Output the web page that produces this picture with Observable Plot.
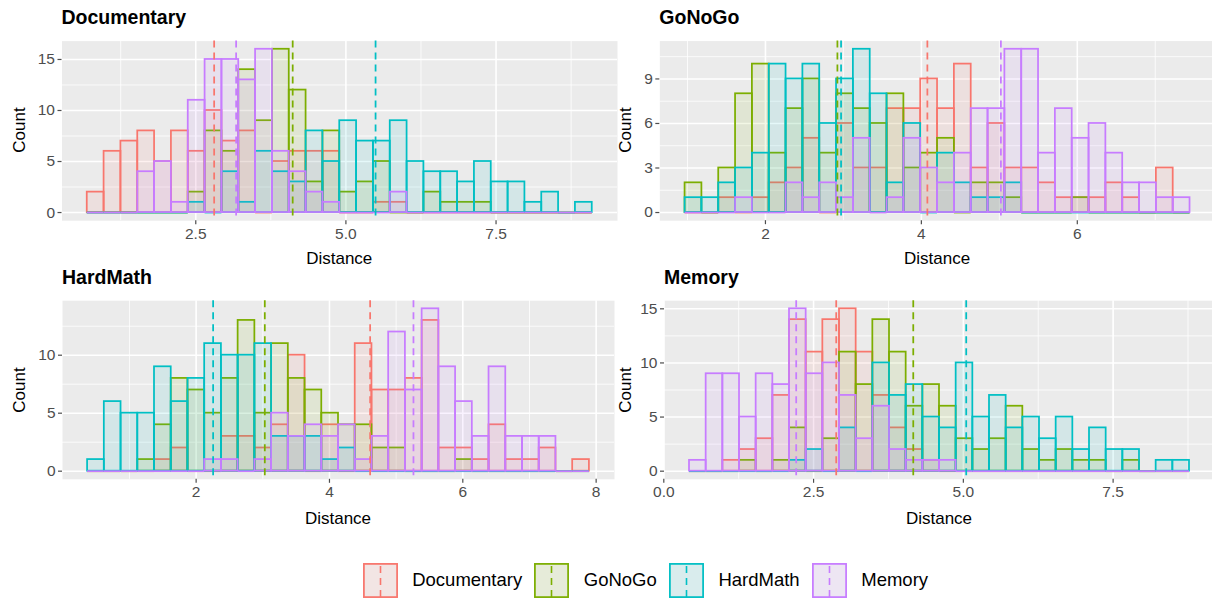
<!DOCTYPE html>
<html><head><meta charset="utf-8">
<script src="https://cdn.jsdelivr.net/npm/d3@7"></script>
<script src="https://cdn.jsdelivr.net/npm/@observablehq/plot@0.6"></script>
<style>
html,body{margin:0;padding:0;background:#fff;}
body{width:1212px;height:601px;overflow:hidden;position:relative;font-family:"Liberation Sans",Arial,Helvetica,sans-serif;}
.abs{position:absolute;}
.ptitle{position:absolute;font-weight:bold;font-size:19.5px;color:#000;white-space:nowrap;line-height:1;transform:translateY(-50%);}
.xlab{position:absolute;font-size:17px;color:#000;white-space:nowrap;line-height:1;transform:translate(-50%,-50%);}
.ylab{position:absolute;font-size:17px;color:#000;white-space:nowrap;line-height:1;transform:translate(-50%,-50%) rotate(-90deg);}
#legend{position:absolute;top:563px;left:362.6px;display:flex;align-items:center;font-size:18.5px;color:#000;height:35px;}
#legend .item{display:flex;align-items:center;margin-right:12px;}
#legend .item span{margin-left:14.6px;line-height:1;}
</style></head><body>
<script>
// ---- groups (colour / legend) ----
const groups = ["Documentary", "GoNoGo", "HardMath", "Memory"];
const groupColors = ["#F8766D", "#7CAE00", "#00BFC4", "#C77CFF"];
const panelNames = ["Documentary", "GoNoGo", "HardMath", "Memory"];
const xAxisTitle = "Distance";
const yAxisTitle = "Count";

// ---- bins (left edge of first bin, bin width) per panel ----
const binStart = [0.693, 0.969, 0.372, 0.429];
const binWidth = [0.2803, 0.2159, 0.2509, 0.2782];

// ---- counts per panel, per group (30 bins) ----
// Panel "Documentary"
const p1Documentary = [2,6,7,8,5,8,6,10,7,8,0,5,6,6,6,0,0,1,1,0,0,0,0,0,0,0,0,0,0,0];
const p1GoNoGo      = [0,0,0,0,0,0,2,8,6,14,9,16,12,3,8,2,3,5,0,0,2,1,1,1,0,0,0,0,0,0];
const p1HardMath    = [0,0,0,0,0,0,1,0,4,1,6,4,3,8,5,9,7,7,9,5,4,4,3,5,3,3,1,2,0,1];
const p1Memory      = [0,0,0,4,5,1,11,15,15,13,16,6,4,2,1,0,0,0,2,0,0,0,0,0,0,0,0,0,0,0];
// Panel "GoNoGo"
const p2Documentary = [0,0,1,0,1,2,3,5,0,6,3,3,7,7,9,7,10,3,6,3,3,2,1,1,1,2,1,0,3,0];
const p2GoNoGo      = [2,0,3,8,10,4,7,9,4,8,7,6,8,3,4,5,0,2,2,1,0,0,0,1,0,0,0,0,0,0];
const p2HardMath    = [1,1,2,3,4,10,9,10,6,9,11,8,2,6,0,4,2,1,1,2,0,0,0,0,0,0,0,0,0,0];
const p2Memory      = [0,0,0,1,0,0,2,1,2,1,5,0,1,5,3,2,4,7,7,11,11,4,7,5,6,4,2,2,1,1];
// Panel "HardMath"
const p3Documentary = [0,0,0,0,1,2,0,0,3,3,2,4,10,0,4,0,11,7,7,8,13,2,2,1,4,1,1,2,0,1];
const p3GoNoGo      = [0,0,0,1,4,8,7,5,8,13,5,11,8,7,5,4,4,2,2,0,0,0,1,0,0,0,0,0,0,0];
const p3HardMath    = [1,6,5,5,9,6,8,11,10,10,11,3,3,3,1,2,0,0,0,0,0,0,0,0,0,0,0,0,0,0];
const p3Memory      = [0,0,0,0,0,0,0,1,1,0,1,5,3,4,3,4,1,3,12,7,14,9,6,3,9,3,3,3,0,0];
// Panel "Memory"
const p4Documentary = [0,0,1,2,3,7,14,11,14,15,11,7,4,2,1,0,0,0,0,0,0,0,0,0,0,0,0,0,0,0];
const p4GoNoGo      = [0,0,0,1,0,1,4,0,3,11,8,14,11,6,8,6,3,2,3,6,2,1,2,1,1,0,1,0,0,0];
const p4HardMath    = [0,0,0,0,0,0,1,2,0,4,0,10,7,8,5,4,10,5,7,4,5,3,5,2,4,2,2,0,1,1];
const p4Memory      = [1,9,9,5,9,8,15,9,10,7,3,6,2,1,1,1,0,0,0,0,0,0,0,0,0,0,0,0,0,0];

// ---- group means (dashed lines) per panel, in group order ----
const p1Means = [2.806, 4.114, 5.494, 3.172];
const p2Means = [4.077, 2.923, 2.970, 5.020];
const p3Means = [4.610, 3.030, 2.255, 5.260];
const p4Means = [2.878, 4.164, 5.048, 2.210];

// ---- axis ticks per panel ----
const p1XTicks = [2.5, 5, 7.5],    p1XMinor = [1.25, 3.75, 6.25, 8.75];
const p2XTicks = [2, 4, 6],        p2XMinor = [1, 3, 5, 7];
const p3XTicks = [2, 4, 6, 8],     p3XMinor = [1, 3, 5, 7];
const p4XTicks = [0, 2.5, 5, 7.5], p4XMinor = [1.25, 3.75, 6.25, 8.75];
const p1YTicks = [0, 5, 10, 15],   p1YMinor = [2.5, 7.5, 12.5];
const p2YTicks = [0, 3, 6, 9],     p2YMinor = [1.5, 4.5, 7.5, 10.5];
const p3YTicks = [0, 5, 10],       p3YMinor = [2.5, 7.5, 12.5];
const p4YTicks = [0, 5, 10, 15],   p4YMinor = [2.5, 7.5, 12.5];

const fmt1 = d3.format(".1f"), fmt0 = d3.format("d");

const panels = [
  {name: panelNames[0], counts: [p1Documentary, p1GoNoGo, p1HardMath, p1Memory], means: p1Means,
   start: binStart[0], w: binWidth[0], xTicks: p1XTicks, xMinor: p1XMinor, yTicks: p1YTicks, yMinor: p1YMinor, fmt: fmt1,
   L: {chartLeft: 0, chartTop: 30, panelLeft: 61.5, panelWidth: 555.5, panelTop: 40.6, panelBottom: 220.2, titleCY: 18, countX: 18.5, distCY: 258}},
  {name: panelNames[1], counts: [p2Documentary, p2GoNoGo, p2HardMath, p2Memory], means: p2Means,
   start: binStart[1], w: binWidth[1], xTicks: p2XTicks, xMinor: p2XMinor, yTicks: p2YTicks, yMinor: p2YMinor, fmt: fmt0,
   L: {chartLeft: 606, chartTop: 30, panelLeft: 659.3, panelWidth: 555.5, panelTop: 40.6, panelBottom: 220.2, titleCY: 18, countX: 624.5, distCY: 258}},
  {name: panelNames[2], counts: [p3Documentary, p3GoNoGo, p3HardMath, p3Memory], means: p3Means,
   start: binStart[2], w: binWidth[2], xTicks: p3XTicks, xMinor: p3XMinor, yTicks: p3YTicks, yMinor: p3YMinor, fmt: fmt0,
   L: {chartLeft: 0, chartTop: 290, panelLeft: 62, panelWidth: 552, panelTop: 300.2, panelBottom: 478.8, titleCY: 277.5, countX: 18.5, distCY: 518}},
  {name: panelNames[3], counts: [p4Documentary, p4GoNoGo, p4HardMath, p4Memory], means: p4Means,
   start: binStart[3], w: binWidth[3], xTicks: p4XTicks, xMinor: p4XMinor, yTicks: p4YTicks, yMinor: p4YMinor, fmt: fmt1,
   L: {chartLeft: 606, chartTop: 290, panelLeft: 664, panelWidth: 550, panelTop: 300.2, panelBottom: 478.8, titleCY: 277.5, countX: 624.5, distCY: 518}}
];

function addDiv(cls, text, styles) {
  const d = document.createElement("div");
  d.className = cls; d.textContent = text;
  Object.assign(d.style, styles);
  document.body.appendChild(d);
  return d;
}

const barStroke = 1.75, dashStroke = 1.75;

for (const p of panels) {
  const n = p.counts[0].length;
  const end = p.start + n * p.w;
  const span = end - p.start;
  const xDomain = [p.start - 0.05 * span, end + 0.05 * span];
  const ymax = d3.max(p.counts.flat());
  const yDomain = [-0.05 * ymax, 1.05 * ymax];
  const L = p.L;
  const H = 240;
  const marginLeft = L.panelLeft - L.chartLeft;
  const marginTop = L.panelTop - L.chartTop;
  const marginBottom = H - (L.panelBottom - L.chartTop);

  const marks = [
    Plot.frame({fill: "#EBEBEB", stroke: "none"}),
    Plot.ruleX(p.xMinor, {stroke: "#fff", strokeWidth: 0.8}),
    Plot.ruleY(p.yMinor, {stroke: "#fff", strokeWidth: 0.8}),
    Plot.ruleX(p.xTicks, {stroke: "#fff", strokeWidth: 1.6}),
    Plot.ruleY(p.yTicks, {stroke: "#fff", strokeWidth: 1.6})
  ];
  groups.forEach((g, i) => {
    const rows = p.counts[i].map((c, k) => ({x1: p.start + k * p.w, x2: p.start + (k + 1) * p.w, count: c}));
    marks.push(Plot.rect(rows.filter(d => d.count > 0), {
      x1: "x1", x2: "x2", y1: () => 0, y2: "count",
      fill: groupColors[i], fillOpacity: 0.1, stroke: groupColors[i], strokeWidth: barStroke
    }));
    marks.push(Plot.ruleY(rows.filter(d => d.count === 0), {
      x1: "x1", x2: "x2", y: () => 0, stroke: groupColors[i], strokeWidth: barStroke
    }));
  });
  groups.forEach((g, i) => {
    marks.push(Plot.ruleX([p.means[i]], {stroke: groupColors[i], strokeWidth: dashStroke, strokeDasharray: "7,5"}));
  });
  marks.push(Plot.axisX({ticks: p.xTicks, tickFormat: p.fmt, tickSize: 4, tickPadding: 3, fontSize: 15.5, color: "#4D4D4D", strokeWidth: 1.2, label: null}));
  marks.push(Plot.axisY({ticks: p.yTicks, tickFormat: fmt0, tickSize: 4, tickPadding: 3, fontSize: 15.5, color: "#4D4D4D", strokeWidth: 1.2, label: null}));

  const chartWidth = marginLeft + L.panelWidth;
  const svg = Plot.plot({
    width: chartWidth, height: H,
    marginLeft, marginRight: 0, marginTop, marginBottom,
    x: {domain: xDomain}, y: {domain: yDomain},
    style: {background: "transparent", overflow: "visible", fontFamily: "Liberation Sans, Arial, sans-serif", maxWidth: "none"},
    marks
  });
  const holder = document.createElement("div");
  holder.className = "abs";
  holder.style.left = L.chartLeft + "px";
  holder.style.top = L.chartTop + "px";
  holder.appendChild(svg);
  document.body.appendChild(holder);

  addDiv("ptitle", p.name, {left: L.panelLeft + "px", top: L.titleCY + "px"});
  addDiv("xlab", xAxisTitle, {left: (L.panelLeft + L.panelWidth / 2) + "px", top: L.distCY + "px"});
  addDiv("ylab", yAxisTitle, {left: L.countX + "px", top: ((L.panelTop + L.panelBottom) / 2) + "px"});
}

// ---- legend ----
const legend = document.createElement("div");
legend.id = "legend";
groups.forEach((g, i) => {
  const item = document.createElement("div");
  item.className = "item";
  const c = groupColors[i];
  item.innerHTML = `<svg width="35" height="35" style="display:block">
    <rect x="0" y="0" width="35" height="35" fill="#F2F2F2"/>
    <rect x="0.9" y="0.9" width="33.2" height="33.2" fill="${c}" fill-opacity="0.1" stroke="${c}" stroke-width="1.75"/>
    <line x1="17.5" x2="17.5" y1="0" y2="35" stroke="${c}" stroke-width="1.6" stroke-dasharray="7,5" stroke-dashoffset="-3"/>
  </svg><span>${g}</span>`;
  legend.appendChild(item);
});
document.body.appendChild(legend);
</script>
</body></html>
